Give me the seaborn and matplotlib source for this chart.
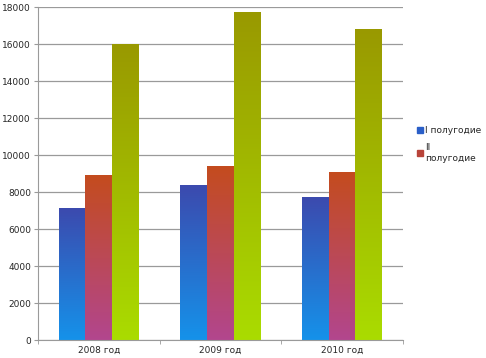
import numpy as np
import pandas as pd
import seaborn as sns
import matplotlib.pyplot as plt
from matplotlib.colors import LinearSegmentedColormap
from matplotlib.lines import Line2D

# data
years = ['2008 год', '2009 год', '2010 год']
series = ['I полугодие', 'II полугодие', 'Год']
first_half = [7130, 8330, 7730]
second_half = [8870, 9400, 9080]
whole_year = [15950, 17680, 16810]

df = pd.DataFrame({
    'year': years * 3,
    'series': np.repeat(series, 3),
    'value': first_half + second_half + whole_year,
})

# top colour -> bottom colour for each series
grads = [('#3c4aae', '#1592ea'), ('#c44c1e', '#b2468e'), ('#999900', '#aadc00')]
legend_cols = ['#2a5fc8', '#b8443a']

sns.set_style('white')
plt.rcParams['font.family'] = ['DejaVu Sans']

fig = plt.figure(figsize=(4.86, 3.58), dpi=100)
ax = fig.add_axes([0.078, 0.050, 0.751, 0.930])

sns.barplot(data=df, x='year', y='value', hue='series', hue_order=series,
            order=years, width=0.66, ax=ax, legend=False, errorbar=None)

# swap the flat bars for vertical gradients
for i, patch in enumerate(ax.patches):
    top_c, bot_c = grads[i // len(years)]
    cmap = LinearSegmentedColormap.from_list('g', [bot_c, top_c])
    x0, y0 = patch.get_x(), patch.get_y()
    w, h = patch.get_width(), patch.get_height()
    grad = np.linspace(0, 1, 256).reshape(-1, 1)
    ax.imshow(grad, cmap=cmap, origin='lower', aspect='auto',
              extent=[x0, x0 + w, y0, y0 + h], zorder=2)
    patch.set_visible(False)

ax.set_xlim(-0.5, 2.5)
ax.set_ylim(0, 18000)
ax.set_yticks(range(0, 18001, 2000))
ax.yaxis.grid(True, color='#9a9a9a', linewidth=0.9)
ax.set_axisbelow(True)
ax.set_xlabel('')
ax.set_ylabel('')

for s in ['top', 'right']:
    ax.spines[s].set_visible(False)
ax.spines['left'].set_color('#9a9a9a')
ax.spines['bottom'].set_color('#9a9a9a')

ax.tick_params(axis='y', labelsize=6.5, length=3, color='#9a9a9a', pad=2, left=True)
ax.tick_params(axis='x', labelsize=6.5, length=0, pad=4)
ax.set_xticks([-0.5, 0.5, 1.5, 2.5], minor=True)
ax.tick_params(axis='x', which='minor', length=3, color='#9a9a9a', bottom=True)

handles = [Line2D([], [], marker='s', linestyle='', markersize=4,
                  color=c) for c in legend_cols]
fig.legend(handles, ['I полугодие', 'II\nполугодие'], loc='upper left',
           bbox_to_anchor=(0.84, 0.67), frameon=False, fontsize=6.5,
           handletextpad=0.2, labelspacing=0.9, handlelength=0.8)

fig.savefig('out.png', dpi=100)
